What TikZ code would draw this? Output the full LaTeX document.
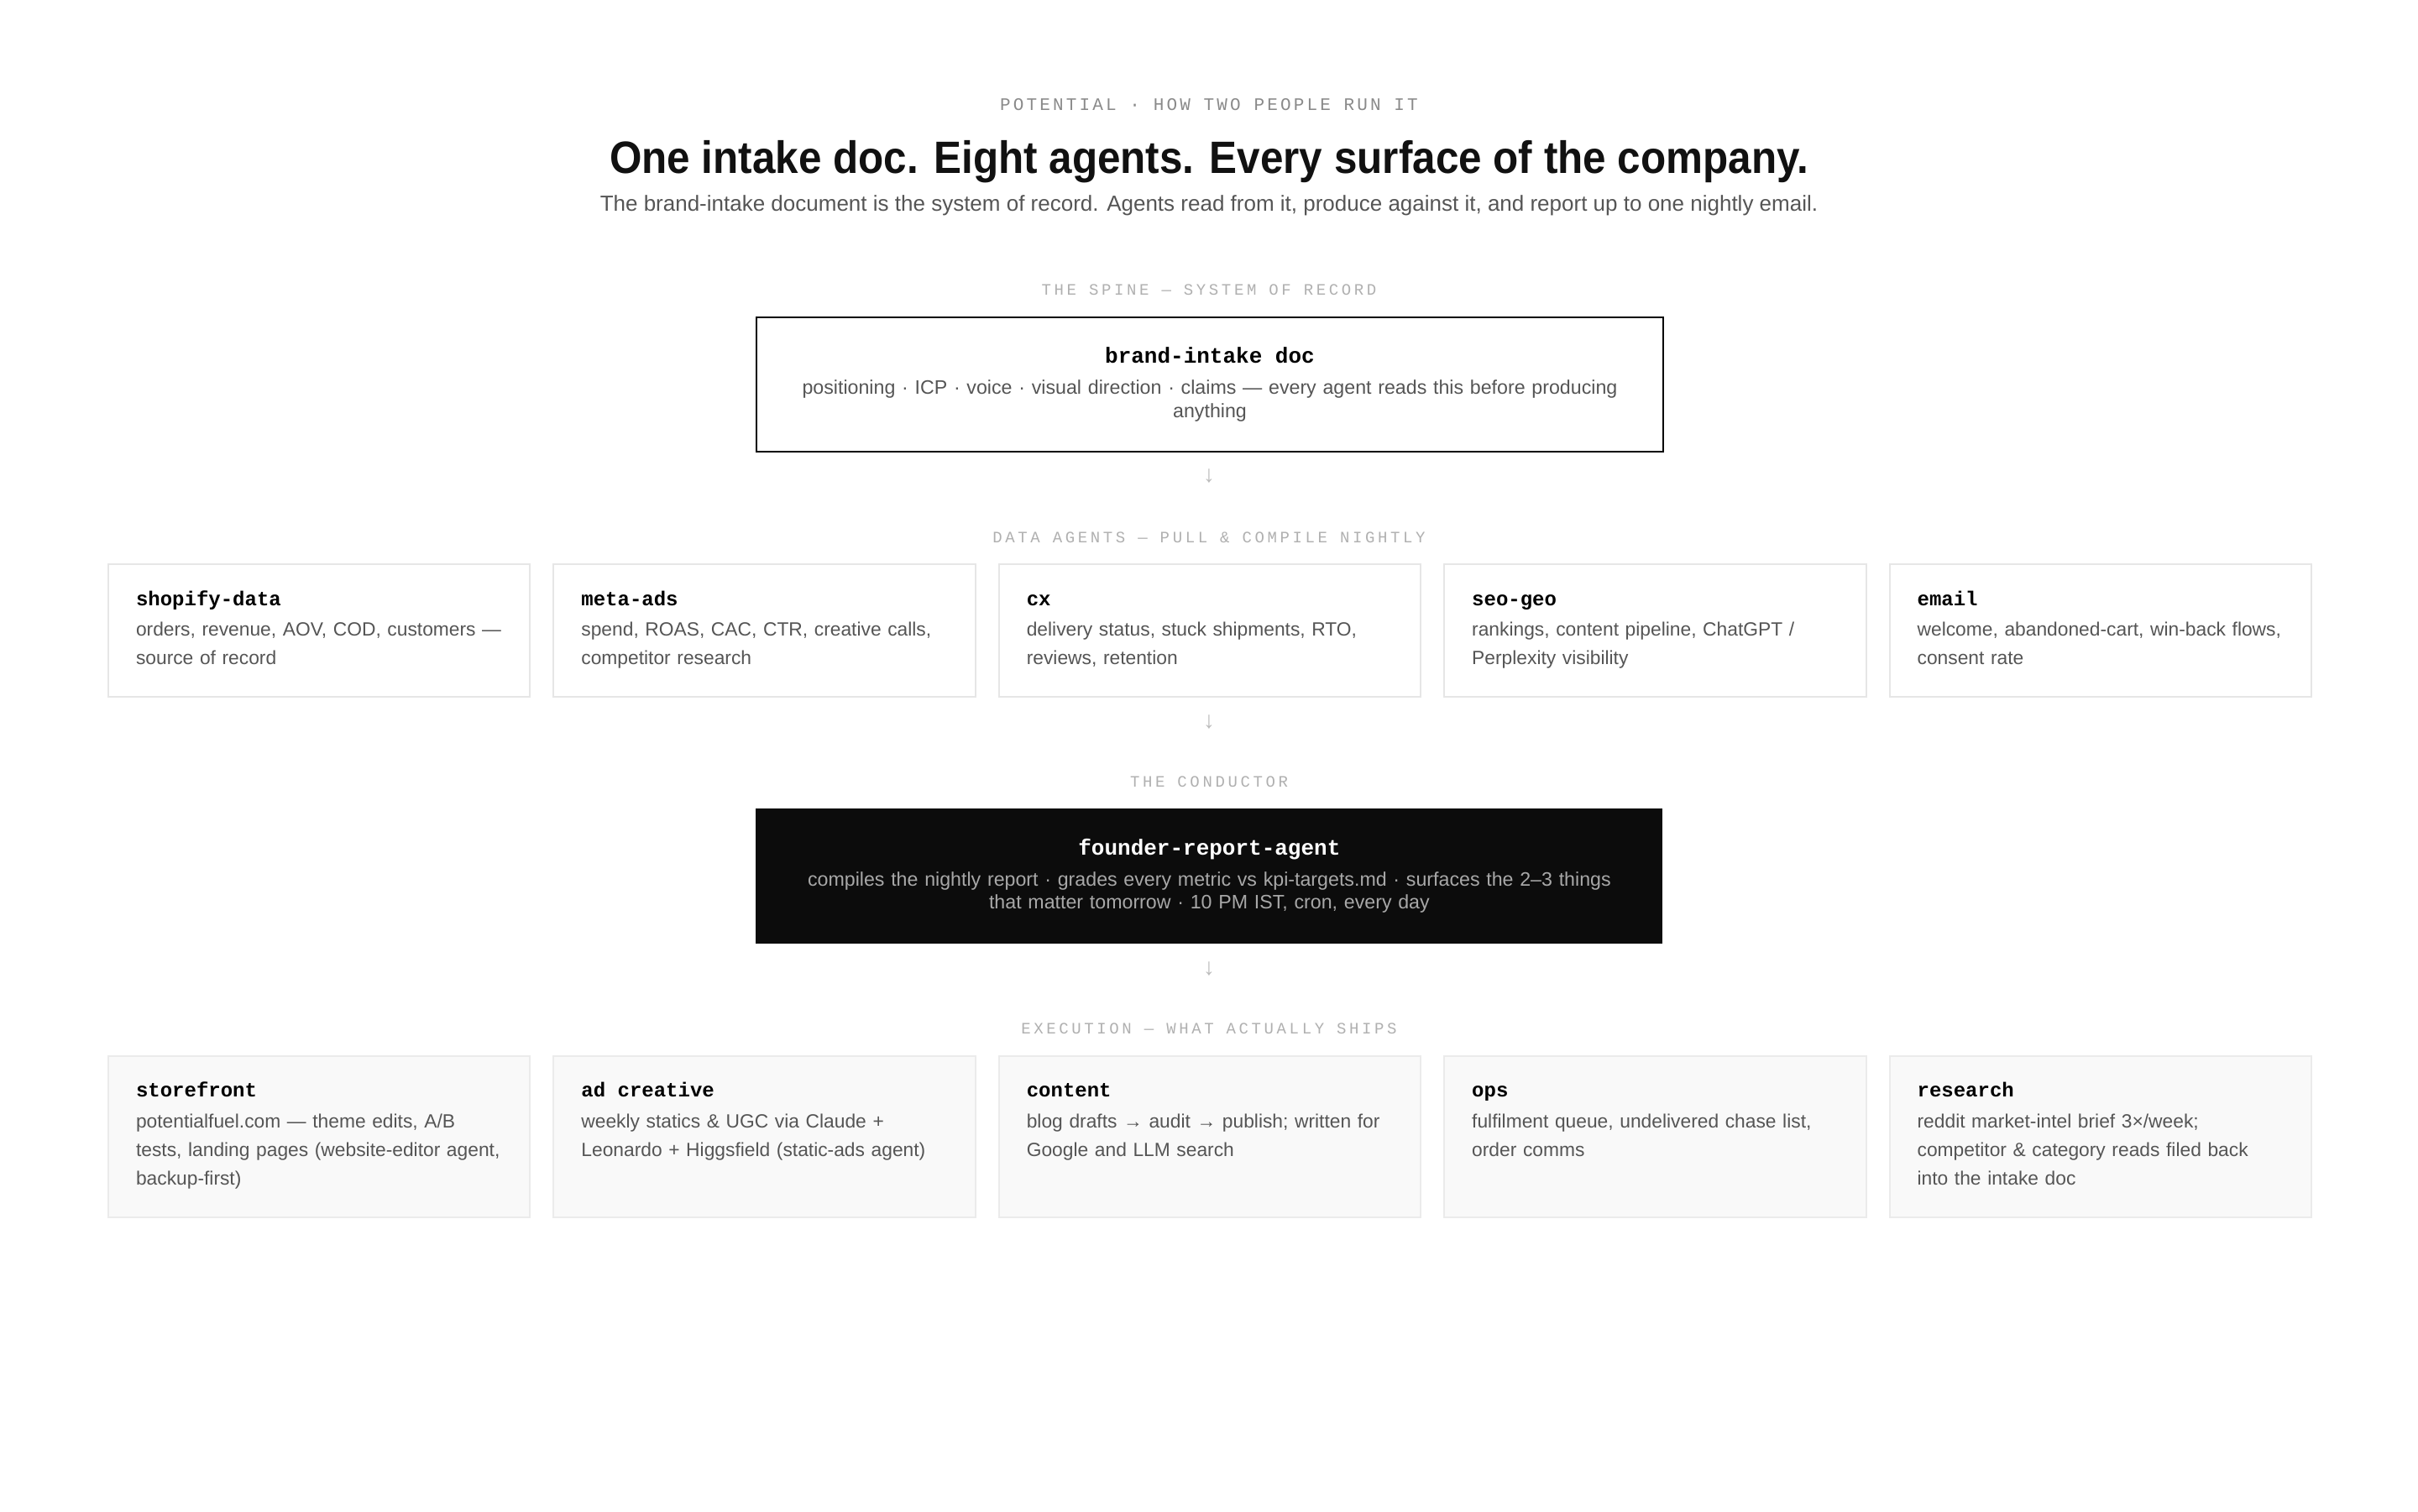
\documentclass[tikz,border=0pt]{standalone}
\usepackage{fontspec}
\setmainfont{Liberation Sans}
\newfontfamily\monofont{Liberation Mono}
\newfontfamily\tagfont[LetterSpace=15]{Liberation Mono}
\newfontfamily\secfont[LetterSpace=19]{Liberation Mono}
\newfontfamily\headfont[FakeStretch=0.915]{Liberation Sans}
\usetikzlibrary{positioning}

\definecolor{tagcol}{HTML}{8A8A8A}
\definecolor{seccol}{HTML}{B0B0B0}
\definecolor{inkcol}{HTML}{111111}
\definecolor{ledecol}{HTML}{555555}
\definecolor{desccol}{HTML}{555555}
\definecolor{linecol}{HTML}{E6E6E6}
\definecolor{shipfill}{HTML}{F9F9F9}
\definecolor{shipline}{HTML}{EBEBEB}
\definecolor{darkfill}{HTML}{0C0C0C}
\definecolor{darktext}{HTML}{A8A8A8}
\definecolor{arrowcol}{HTML}{BBBBBB}

\begin{document}
\begin{tikzpicture}[x=1pt, y=-1pt]
		\tikzstyle{Txt}		= [inner sep=0pt, outer sep=0pt, anchor=base]
		\tikzstyle{Tag}		= [Txt, text=tagcol, font=\tagfont\fontsize{10.5}{12}\selectfont]
		\tikzstyle{Section}	= [Txt, text=seccol, font=\secfont\fontsize{9.5}{12}\selectfont]
		\tikzstyle{Head}	= [Txt, text=inkcol, font=\headfont\bfseries\fontsize{27}{32}\selectfont]
		\tikzstyle{Lede}	= [Txt, text=ledecol, font=\fontsize{13}{16}\selectfont]
		\tikzstyle{Flow}	= [Txt, anchor=center, text=arrowcol, font=\monofont\fontsize{14}{14}\selectfont]
		\tikzstyle{Spine}	= [rectangle, draw=black, line width=1pt, fill=white, minimum width=540pt, minimum height=79.6pt, anchor=north west, inner sep=0pt]
		\tikzstyle{Conductor}	= [rectangle, fill=darkfill, minimum width=540pt, minimum height=80.6pt, anchor=north west, inner sep=0pt]
		\tikzstyle{Card}	= [rectangle, draw=linecol, line width=1pt, fill=white, minimum width=251.2pt, minimum height=79pt, anchor=north west, inner sep=0pt]
		\tikzstyle{Ship}	= [Card, draw=shipline, fill=shipfill, minimum height=96.2pt]
		\tikzstyle{BigTitle}	= [Txt, font=\monofont\bfseries\fontsize{13}{15}\selectfont]
		\tikzstyle{BigDesc}	= [Txt, text width=530pt, align=center, font=\fontsize{11.6}{13.8}\selectfont]
		\tikzstyle{CardTitle}	= [Txt, anchor=base west, font=\monofont\bfseries\fontsize{12}{14}\selectfont]
		\tikzstyle{CardDesc}	= [Txt, anchor=base west, text=desccol, text width=245pt, align=left, font=\fontsize{11.4}{17}\selectfont]

		\fill[white] (0,0) rectangle (1440,900);
		\useasboundingbox (0,0) rectangle (1440,900);

		% header
		\node (tag) at (720,65.8) [Tag] {POTENTIAL · HOW TWO PEOPLE RUN IT};
		\node (headline) at (720,103) [Head] {One intake doc. Eight agents. Every surface of the company.};
		\node (lede) at (720,125.8) [Lede] {The brand-intake document is the system of record. Agents read from it, produce against it, and report up to one nightly email.};

		% the spine
		\node (spinelab) at (720,175.8) [Section] {THE SPINE — SYSTEM OF RECORD};
		\node (spine) at (450,188.7) [Spine] {};
		\node (spinet) at ([shift={(0,27.6)}]spine.north) [BigTitle] {brand-intake doc};
		\node (spined) at ([shift={(0,46)}]spine.north) [BigDesc, text=desccol] {positioning · ICP · voice · visual direction · claims — every agent reads this before producing\\anything};
		\node (flow1) at (720,283.3) [Flow] {↓};

		% data agents
		\node (datalab) at (720,323) [Section] {DATA AGENTS — PULL \& COMPILE NIGHTLY};
		\node (d1) at (64,335.5) [Card] {};
		\node (d2) at (329.2,335.5) [Card] {};
		\node (d3) at (594.4,335.5) [Card] {};
		\node (d4) at (859.6,335.5) [Card] {};
		\node (d5) at (1124.8,335.5) [Card] {};
		\node (d1t) at ([shift={(17,25.3)}]d1.north west) [CardTitle] {shopify-data};
		\node (d2t) at ([shift={(17,25.3)}]d2.north west) [CardTitle] {meta-ads};
		\node (d3t) at ([shift={(17,25.3)}]d3.north west) [CardTitle] {cx};
		\node (d4t) at ([shift={(17,25.3)}]d4.north west) [CardTitle] {seo-geo};
		\node (d5t) at ([shift={(17,25.3)}]d5.north west) [CardTitle] {email};
		\node (d1d) at ([shift={(17,43.3)}]d1.north west) [CardDesc] {orders, revenue, AOV, COD, customers —\\source of record};
		\node (d2d) at ([shift={(17,43.3)}]d2.north west) [CardDesc] {spend, ROAS, CAC, CTR, creative calls,\\competitor research};
		\node (d3d) at ([shift={(17,43.3)}]d3.north west) [CardDesc] {delivery status, stuck shipments, RTO,\\reviews, retention};
		\node (d4d) at ([shift={(17,43.3)}]d4.north west) [CardDesc] {rankings, content pipeline, ChatGPT /\\Perplexity visibility};
		\node (d5d) at ([shift={(17,43.3)}]d5.north west) [CardDesc] {welcome, abandoned-cart, win-back flows,\\consent rate};
		\node (flow2) at (720,430) [Flow] {↓};

		% the conductor
		\node (condlab) at (720,468.8) [Section] {THE CONDUCTOR};
		\node (cond) at (450,481.2) [Conductor] {};
		\node (condt) at ([shift={(0,28)}]cond.north) [BigTitle, text=white] {founder-report-agent};
		\node (condd) at ([shift={(0,46.3)}]cond.north) [BigDesc, text=darktext] {compiles the nightly report · grades every metric vs kpi-targets.md · surfaces the 2–3 things\\that matter tomorrow · 10 PM IST, cron, every day};
		\node (flow3) at (720,577) [Flow] {↓};

		% execution
		\node (execlab) at (720,615.8) [Section] {EXECUTION — WHAT ACTUALLY SHIPS};
		\node (e1) at (64,628.3) [Ship] {};
		\node (e2) at (329.2,628.3) [Ship] {};
		\node (e3) at (594.4,628.3) [Ship] {};
		\node (e4) at (859.6,628.3) [Ship] {};
		\node (e5) at (1124.8,628.3) [Ship] {};
		\node (e1t) at ([shift={(17,25)}]e1.north west) [CardTitle] {storefront};
		\node (e2t) at ([shift={(17,25)}]e2.north west) [CardTitle] {ad creative};
		\node (e3t) at ([shift={(17,25)}]e3.north west) [CardTitle] {content};
		\node (e4t) at ([shift={(17,25)}]e4.north west) [CardTitle] {ops};
		\node (e5t) at ([shift={(17,25)}]e5.north west) [CardTitle] {research};
		\node (e1d) at ([shift={(17,43.4)}]e1.north west) [CardDesc] {potentialfuel.com — theme edits, A/B\\tests, landing pages (website-editor agent,\\backup-first)};
		\node (e2d) at ([shift={(17,43.4)}]e2.north west) [CardDesc] {weekly statics \& UGC via Claude +\\Leonardo + Higgsfield (static-ads agent)};
		\node (e3d) at ([shift={(17,43.4)}]e3.north west) [CardDesc] {blog drafts → audit → publish; written for\\Google and LLM search};
		\node (e4d) at ([shift={(17,43.4)}]e4.north west) [CardDesc] {fulfilment queue, undelivered chase list,\\order comms};
		\node (e5d) at ([shift={(17,43.4)}]e5.north west) [CardDesc] {reddit market-intel brief 3×/week;\\competitor \& category reads filed back\\into the intake doc};
	\end{tikzpicture}
\end{document}
